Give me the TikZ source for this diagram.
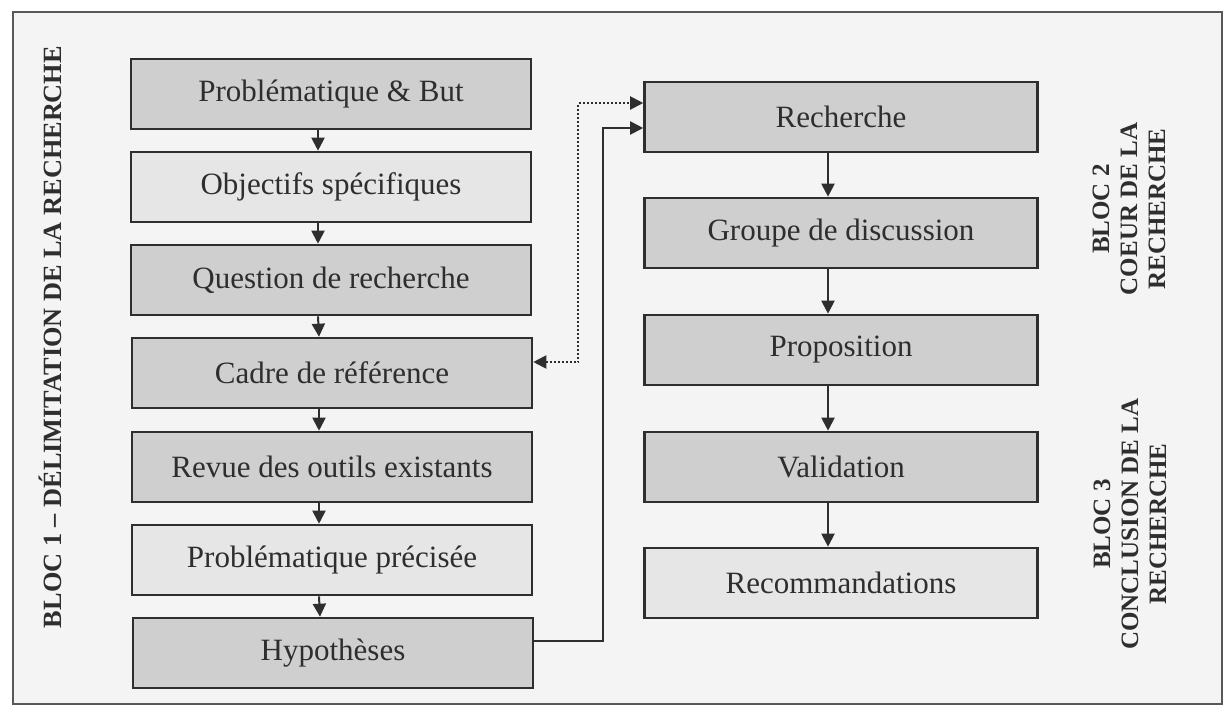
\documentclass[tikz,border=0pt]{standalone}
\usepackage{fontspec}
\setmainfont{Liberation Serif}
\usetikzlibrary{arrows.meta}
\definecolor{pagebg}{HTML}{F4F4F4}
\definecolor{boxdark}{HTML}{CFCFCF}
\definecolor{boxlight}{HTML}{E6E6E6}
\definecolor{ink}{HTML}{2E2E2E}
\begin{document}
\begin{tikzpicture}[x=1pt,y=-1pt,
  stepbox/.style={draw=ink,line width=2.6pt,rectangle,minimum height=70pt,
    inner sep=0pt,font=\fontsize{31}{36}\selectfont,text=ink},
  leftbox/.style={stepbox,minimum width=400pt},
  rightbox/.style={stepbox,minimum width=393pt},
  darkfill/.style={fill=boxdark},
  lightfill/.style={fill=boxlight},
  flow/.style={draw=ink,line width=2pt,-{Triangle[length=13pt,width=13pt]}},
  link/.style={draw=ink,line width=2pt,{Triangle[length=13pt,width=13pt]}-{Triangle[length=13pt,width=13pt]},dash pattern=on 2pt off 2pt},
  blocklabel/.style={rotate=90,align=center,font=\bfseries\fontsize{25}{28}\selectfont,text=ink}
]
\useasboundingbox (0,0) rectangle (1225,710);
\fill[white] (0,0) rectangle (1225,710);
\draw[draw=ink!80,line width=2.5pt,fill=pagebg] (13,12) rectangle (1222,704);

% Block 1: definition of the research
\node[leftbox,darkfill]  (pb)   at (331,94)  {Problématique \& But};
\node[leftbox,lightfill] (obj)  at (331,187) {Objectifs spécifiques};
\node[leftbox,darkfill]  (qr)   at (331,280) {Question de recherche};
\node[leftbox,darkfill]  (cadre) at (332,373) {Cadre de référence};
\node[leftbox,darkfill]  (revue) at (332,467) {Revue des outils existants};
\node[leftbox,lightfill] (pp)   at (332,560) {Problématique précisée};
\node[leftbox,darkfill]  (hyp)  at (333,653) {Hypothèses};

% Blocks 2 and 3: core and conclusion
\node[rightbox,darkfill]  (rech)  at (841,117) {Recherche};
\node[rightbox,darkfill]  (grp)   at (841,233) {Groupe de discussion};
\node[rightbox,darkfill]  (prop)  at (841,350) {Proposition};
\node[rightbox,darkfill]  (valid) at (841,467) {Validation};
\node[rightbox,lightfill] (reco)  at (841,583) {Recommandations};

% Side titles
\node[blocklabel,font=\bfseries\fontsize{26.3}{30}\selectfont] (b1) at (50,337)
  {BLOC 1 – DÉLIMITATION DE LA RECHERCHE};
\node[blocklabel] (b2) at (1129,209) {BLOC 2\\COEUR DE LA\\RECHERCHE};
\node[blocklabel] (b3) at (1130,524) {BLOC 3\\CONCLUSION DE LA\\RECHERCHE};

% Vertical flow, left column
\foreach \a/\b in {pb/obj,obj/qr,qr/cadre,cadre/revue,revue/pp,pp/hyp}
  \draw[flow] ([xshift=-13pt]\a.south) -- ([xshift=-13pt]\b.north);

% Vertical flow, right column
\foreach \a/\b in {rech/grp,grp/prop,prop/valid,valid/reco}
  \draw[flow] ([xshift=-13pt]\a.south) -- ([xshift=-13pt]\b.north);

% Hypotheses feed the research
\draw[flow] ([yshift=12pt]hyp.east) -- ++(69pt,0) |- ([yshift=-11pt]rech.west);

% Two-way link between framework and research
\draw[link] ([yshift=11pt]cadre.east) -- ++(45pt,0) |- ([yshift=14pt]rech.west);
\end{tikzpicture}
\end{document}
